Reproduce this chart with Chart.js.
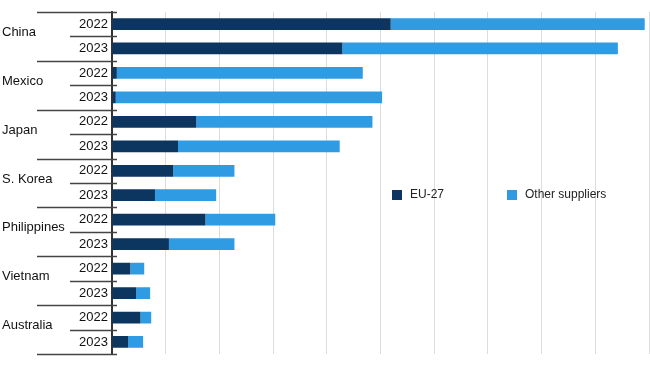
<!DOCTYPE html>
<html>
<head>
<meta charset="utf-8">
<script src="https://cdn.jsdelivr.net/npm/chart.js@4.4.1/dist/chart.umd.min.js"></script>
<style>
  html, body { margin: 0; padding: 0; background: #fff; }
  #wrap { width: 650px; height: 366px; position: relative; }
</style>
</head>
<body>
<div id="wrap"><canvas id="chart"></canvas></div>
<script>
// Pork imports by supplier, thousand tonnes
const countries = ['China', 'Mexico', 'Japan', 'S. Korea', 'Philippines', 'Vietnam', 'Australia'];
const years = ['2022', '2023'];
const euValues = [519, 429, 9, 7, 157, 123, 114, 80, 174, 106, 34, 45, 53, 30];
const otherValues = [473, 513, 458, 496, 328, 301, 114, 114, 130, 122, 26, 26, 20, 28];
const xTicks = [0, 100, 200, 300, 400, 500, 600, 700, 800, 900, 1000];

const seriesNames = ['EU-27', 'Other suppliers'];
const seriesColors = ['#0c3560', '#2e9be2'];

const labelFont = '13px "Liberation Sans", Arial, Helvetica, sans-serif';

// one row per country/year
const rowLabels = [];
countries.forEach(c => years.forEach(y => rowLabels.push(y)));

// country names, separator ticks and legend
const groupPlugin = {
    id: 'groupLabels',
    afterDraw(chart) {
        const ctx = chart.ctx;
        const yScale = chart.scales.y;
        const area = chart.chartArea;
        const half = (yScale.getPixelForValue(1) - yScale.getPixelForValue(0)) / 2;

        ctx.save();
        ctx.strokeStyle = '#444';
        ctx.lineWidth = 1.5;
        for (let i = 0; i <= rowLabels.length; i++) {
            const y = Math.round(yScale.getPixelForValue(i) - half) + 0.5;
            const x0 = (i % years.length === 0) ? 37 : 70;
            ctx.beginPath();
            ctx.moveTo(x0, y);
            ctx.lineTo(area.left + 5, y);
            ctx.stroke();
        }

        ctx.fillStyle = '#111';
        ctx.font = labelFont;
        ctx.textAlign = 'left';
        ctx.textBaseline = 'middle';
        countries.forEach((c, k) => {
            const y = yScale.getPixelForValue(k * 2) + half - 4;
            ctx.fillText(c, 2, y);
        });

        // legend
        const legendY = 195;
        const legendX = [392, 507];
        ctx.font = '12px "Liberation Sans", Arial, Helvetica, sans-serif';
        chart.data.datasets.forEach((ds, i) => {
            ctx.fillStyle = ds.backgroundColor;
            ctx.fillRect(legendX[i], legendY - 5, 10, 10);
            ctx.fillStyle = '#222';
            ctx.fillText(ds.label, legendX[i] + 18, legendY);
        });
        ctx.restore();
    }
};

new Chart(document.getElementById('chart'), {
    type: 'bar',
    data: {
        labels: rowLabels,
        datasets: [
            {
                label: seriesNames[0],
                data: euValues,
                backgroundColor: seriesColors[0],
                categoryPercentage: 1,
                barPercentage: 0.48
            },
            {
                label: seriesNames[1],
                data: otherValues,
                backgroundColor: seriesColors[1],
                categoryPercentage: 1,
                barPercentage: 0.48
            }
        ]
    },
    options: {
        indexAxis: 'y',
        responsive: true,
        maintainAspectRatio: false,
        animation: false,
        layout: { padding: { top: 10, bottom: 9, right: 1, left: 0 } },
        plugins: {
            legend: { display: false },
            tooltip: { enabled: false }
        },
        scales: {
            x: {
                stacked: true,
                min: xTicks[0],
                max: xTicks[xTicks.length - 1],
                afterBuildTicks: (scale) => {
                    scale.ticks = xTicks.map(v => ({ value: v }));
                },
                ticks: { display: false },
                grid: { color: '#dcdcdc', lineWidth: 1, drawTicks: false },
                border: { display: false }
            },
            y: {
                stacked: true,
                afterFit: (scale) => { scale.width = 112; },
                ticks: {
                    color: '#111',
                    font: { size: 13, family: '"Liberation Sans", Arial, Helvetica, sans-serif' },
                    padding: 4,
                    autoSkip: false
                },
                grid: { display: false, drawTicks: false },
                border: { display: true, color: '#333', width: 2 }
            }
        }
    },
    plugins: [groupPlugin]
});
</script>
</body>
</html>
